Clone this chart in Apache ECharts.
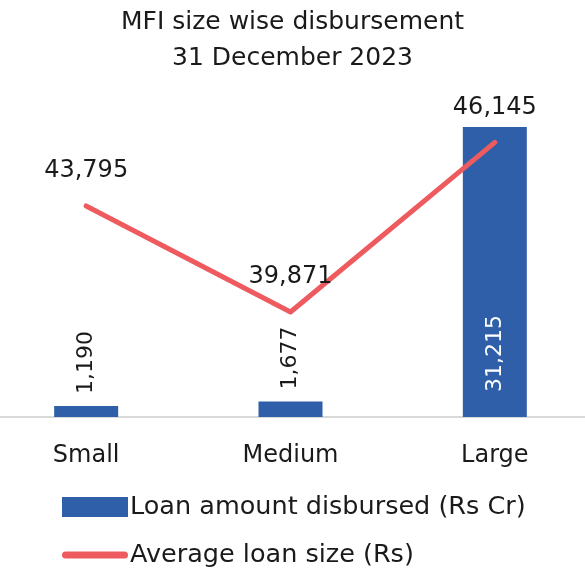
<!DOCTYPE html>
<html>
<head>
<meta charset="utf-8">
<style>
  html, body { margin: 0; padding: 0; background: #fff; }
  #chart { width: 585px; height: 574px; }
</style>
<script src="https://cdn.jsdelivr.net/npm/echarts@6/dist/echarts.min.js"></script>
</head>
<body>
<div id="chart"></div>
<script>
// chart data
const categories = ['Small', 'Medium', 'Large'];
const loanAmount = [1190, 1677, 31215];      // Rs Cr, bars
const avgLoanSize = [43795, 39871, 46145];   // Rs, line
const seriesNames = ['Loan amount disbursed (Rs Cr)', 'Average loan size (Rs)'];

const FONT = 'DejaVu Sans';
const TEXT = '#1a1a1a';
const BLUE = '#2e5fa8';
const RED = '#ee5b5e';

let chart = echarts.init(document.getElementById('chart'), null, { renderer: 'canvas' });

let fmt = p => Number(p.value).toLocaleString('en-US');

let option = {
    backgroundColor: '#ffffff',
    animation: false,
    textStyle: { fontFamily: FONT },
    title: {
        text: 'MFI size wise disbursement\n31 December 2023',
        left: 'center',
        top: -1,
        textStyle: {
            fontFamily: FONT,
            fontSize: 25,
            fontWeight: 'normal',
            color: TEXT,
            lineHeight: 36
        }
    },
    legend: {
        orient: 'vertical',
        left: 57,
        top: 489,
        itemWidth: 66,
        itemHeight: 20,
        itemGap: 22,
        data: [
            { name: seriesNames[0], icon: 'rect' },
            {
                name: seriesNames[1],
                icon: 'path://M3.5,0H62.5A3.5,3.5,0,0,1,62.5,7H3.5A3.5,3.5,0,0,1,3.5,0Z',
                itemStyle: { color: RED }
            }
        ],
        textStyle: {
            fontFamily: FONT,
            fontSize: 25.5,
            color: TEXT,
            padding: [0, 0, 0, -3]
        }
    },
    grid: {
        left: -16,
        right: -12,
        top: 100,
        bottom: 157,
        outerBoundsMode: 'none'
    },
    xAxis: {
        type: 'category',
        data: categories,
        axisTick: { show: false },
        axisLine: { lineStyle: { color: '#d9d9d9', width: 2 } },
        axisLabel: {
            margin: 27,
            fontFamily: FONT,
            fontSize: 24,
            color: TEXT
        }
    },
    yAxis: [
        { type: 'value', min: 0, max: 34120, show: false, splitLine: { show: false } },
        { type: 'value', min: 35985, max: 47715, show: false, splitLine: { show: false } }
    ],
    series: [
        {
            name: seriesNames[0],
            type: 'bar',
            yAxisIndex: 0,
            barWidth: 64,
            itemStyle: { color: BLUE },
            data: loanAmount.map((v, i) => ({
                value: v,
                label: i === 2 ? {
                    position: 'insideBottom',
                    distance: 25,
                    color: '#ffffff'
                } : {}
            })),
            label: {
                show: true,
                position: 'top',
                distance: 12,
                rotate: 90,
                align: 'left',
                verticalAlign: 'middle',
                fontFamily: FONT,
                fontSize: 22,
                color: TEXT,
                formatter: fmt
            }
        },
        {
            name: seriesNames[1],
            type: 'line',
            yAxisIndex: 1,
            symbol: 'circle',
            symbolSize: 2,
            showSymbol: true,
            lineStyle: { color: RED, width: 5, cap: 'round', join: 'round' },
            itemStyle: { color: RED },
            data: avgLoanSize,
            label: {
                show: true,
                position: 'top',
                distance: 22,
                fontFamily: FONT,
                fontSize: 24,
                color: TEXT,
                formatter: fmt
            },
            z: 3
        }
    ]
};

chart.setOption(option);
</script>
</body>
</html>
